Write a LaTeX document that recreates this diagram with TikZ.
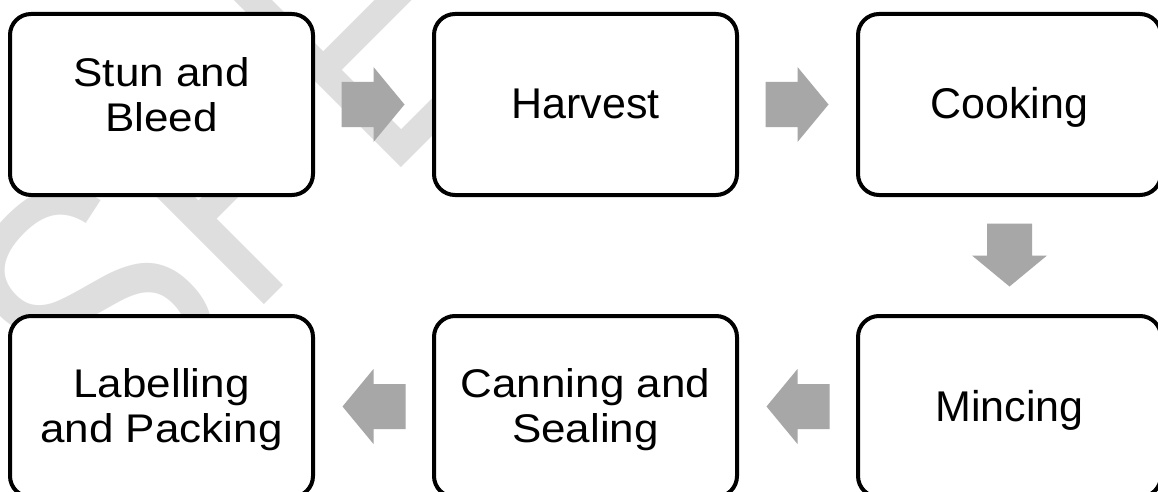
\documentclass[tikz,border=0pt]{standalone}
\usepackage{fontspec}
\setmainfont{Liberation Sans}
\usepackage{graphicx}
\definecolor{arrowgray}{RGB}{167,167,167}
\definecolor{wmgray}{RGB}{222,222,222}
\tikzset{
  stepbox/.style={draw=black, line width=4pt, fill=white, rounded corners=21pt,
    minimum width=303pt, minimum height=181pt, inner sep=0pt},
  oneline/.style={stepbox, font=\fontsize{43}{49}\selectfont, text height=29pt, text depth=0pt},
  twotop/.style={stepbox, font=\fontsize{40}{45}\selectfont, text height=31.5pt, text depth=67.1pt},
  twobot/.style={stepbox, font=\fontsize{40}{45}\selectfont, text height=31.5pt, text depth=49.5pt},
  blockarrow/.style={fill=arrowgray},
  watermark/.style={text=wmgray, inner sep=0pt, rotate=45, anchor=base west,
    font=\fontsize{350}{350}\selectfont},
}
\newcommand\twolines[2]{\scalebox{1.1}[1]{\begin{tabular}[t]{@{}c@{}}#1\\#2\end{tabular}}}
\newcommand\blockarr[2]{\fill[blockarrow, shift={(#1)}, rotate=#2]
  (-32,-22.5) -- (0,-22.5) -- (0,-37.5) -- (31,0) -- (0,37.5) -- (0,22.5) -- (-32,22.5) -- cycle;}
\begin{document}
\begin{tikzpicture}[x=1pt, y=-1pt]
\clip (0,0) rectangle (1158,492);
\fill[white] (0,0) rectangle (1158,492);
% watermark
\node[watermark] (wm) at (110.3,458.2) {\scalebox{0.83}[1]{SPECIMEN}};
% steps
\node[twotop]  (s1) at (161.5,104.5) {\twolines{Stun and}{Bleed}};
\node[oneline] (s2) at (585.5,104.5) {Harvest};
\node[oneline] (s3) at (1009.5,104.5) {Cooking};
\node[oneline] (s4) at (1009.5,406.5) {Mincing};
\node[twobot]  (s5) at (585.5,406.5) {\twolines{Canning and}{Sealing}};
\node[twobot]  (s6) at (161.5,406.5) {\twolines{Labelling}{and Packing}};
% arrow positions
\path (s1.east) -- (s2.west) coordinate[midway] (m12);
\path (s2.east) -- (s3.west) coordinate[midway] (m23);
\path (s3.south) -- (s4.north) coordinate[midway] (m34);
\path (s4.west) -- (s5.east) coordinate[midway] (m45);
\path (s5.west) -- (s6.east) coordinate[midway] (m56);
\blockarr{m12}{0}
\blockarr{m23}{0}
\blockarr{m34}{-90}
\blockarr{m45}{180}
\blockarr{m56}{180}
\end{tikzpicture}
\end{document}
